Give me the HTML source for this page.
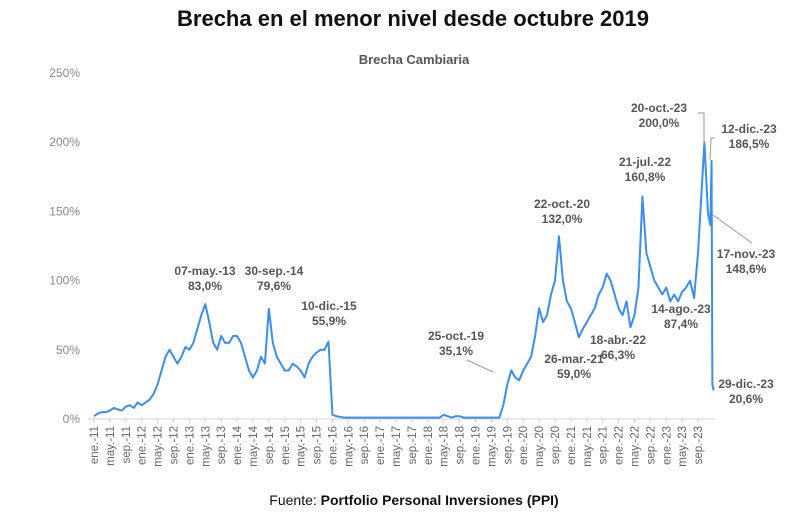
<!DOCTYPE html>
<html><head><meta charset="utf-8"><style>
body{margin:0;background:#fff;width:800px;height:511px;overflow:hidden;font-family:"Liberation Sans",sans-serif}
</style></head><body>
<svg id="chart" width="800" height="511" xmlns="http://www.w3.org/2000/svg" font-family="Liberation Sans, sans-serif">
<text x="413" y="26" text-anchor="middle" font-size="22" font-weight="bold" fill="#111">Brecha en el menor nivel desde octubre 2019</text>
<text x="414" y="64" text-anchor="middle" font-size="13" font-weight="bold" fill="#555">Brecha Cambiaria</text>
<text x="414" y="505" text-anchor="middle" font-size="14" fill="#111">Fuente: <tspan font-weight="bold">Portfolio Personal Inversiones (PPI)</tspan></text>
<g id="yaxis"></g>
<g id="xaxis"></g>
<g id="series"></g>
<g id="ann"></g>
</svg>
<script>
const yTicks=[0,50,100,150,200,250];
const yTickLabels=["0%","50%","100%","150%","200%","250%"];
const xTickLabels=[];
const mNames=["ene.","may.","sep."];
for(let y=11;y<=23;y++)for(let k=0;k<3;k++)xTickLabels.push(mNames[k]+"-"+y);
const monthlyValues=[
2,4,5,5,6,8,7,6,9,10,8,12,
10,12,14,18,25,35,45,50,45,40,45,52,
50,55,65,75,83,70,55,50,60,55,55,60,
60,55,45,35,30,35,45,40,79.6,55,45,40,
35,35,40,38,35,30,40,45,48,50,50,55.9,
3,2,1.5,1,1,1,1,1,1,1,1,1,
1,1,1,1,1,1,1,1,1,1,1,1,
1,1,1,1,3,2,1,2,2,1,1,1,
1,1,1,1,1,1,1,10,25,35.1,30,28,
35,40,45,60,80,70,75,90,100,132,100,85,
80,70,59,65,70,75,80,90,95,105,100,90,
80,75,85,66.3,75,95,160.8,120,110,100,95,90,
95,85,90,85,92,95,100,87.4,120];
const extraMonths=[9.6,10.5,11.1,11.4,11.6,11.9];
const extraValues=[200,148.6,140,186.5,25,20.6];
const annLabels=[["07-may.-13","83,0%"],["30-sep.-14","79,6%"],["10-dic.-15","55,9%"],["25-oct.-19","35,1%"],["22-oct.-20","132,0%"],["26-mar.-21","59,0%"],["21-jul.-22","160,8%"],["18-abr.-22","66,3%"],["14-ago.-23","87,4%"],["20-oct.-23","200,0%"],["12-dic.-23","186,5%"],["17-nov.-23","148,6%"],["29-dic.-23","20,6%"]];
const NS="http://www.w3.org/2000/svg";
const X0=94,PXM=3.974,Y0=419,PXV=346/250;
const xs=m=>X0+m*PXM, ys=v=>Y0-v*PXV;
function mk(t,a,p){const e=document.createElementNS(NS,t);for(const k in a)e.setAttribute(k,a[k]);p.appendChild(e);return e;}
const ya=document.getElementById('yaxis');
yTicks.forEach((v,i)=>{
 const t=mk('text',{x:80,y:ys(v)+4,'text-anchor':'end','font-size':12,fill:'#888'},ya);
 
 
 t.textContent=yTickLabels[i];
});
const xa=document.getElementById('xaxis');
const al=mk('line',{x1:88,x2:715,y1:Y0,y2:Y0,stroke:'#d0d0d0','stroke-width':1},xa);


xTickLabels.forEach((s,i)=>{
 const x=xs(i*4);
 const tk=mk('line',{x1:x,x2:x,y1:Y0,y2:Y0+4,stroke:'#d0d0d0'},xa);
 
 
 const t=mk('text',{x:0,y:0,'text-anchor':'end','font-size':11.5,fill:'#666',transform:`translate(${x+4},${Y0+7}) rotate(-90)`},xa);
 
 
 t.textContent=s;
});
const pts=monthlyValues.map((v,i)=>[xs(i),ys(v)]);
extraMonths.forEach((m,i)=>pts.push([xs(144+m),ys(extraValues[i])]));
const ln=mk('polyline',{points:pts.map(p=>p.join(',')).join(' '),fill:'none',stroke:'#3a8ef0','stroke-width':2,'stroke-linejoin':'round'},document.getElementById('series'));


const an=document.getElementById('ann');
const annPos=[[205,275],[274,275],[329,310],[456,340],[562,208],[574,363],[645,166],[618,344],[681,313],[659,112],[749,133],[746,258],[746,388]];
annLabels.forEach((l,i)=>{
 const [x,y]=annPos[i];
 const t=mk('text',{x:x,y:y,'text-anchor':'middle','font-size':12,'font-weight':'bold',fill:'#555'},an);
 
 
 mk('tspan',{x:x,dy:0},t).textContent=l[0];
 mk('tspan',{x:x,dy:15},t).textContent=l[1];
});
[[[493,372],[467,360]],[[698,113],[704,113],[704,145]],[[715,138],[711,138],[710,160]],[[713,215],[752,243]]].forEach(p=>{
 const g=mk('polyline',{points:p.map(q=>q.join(',')).join(' '),fill:'none',stroke:'#999','stroke-width':1},an);
 
 
});
</script>
</body></html>
